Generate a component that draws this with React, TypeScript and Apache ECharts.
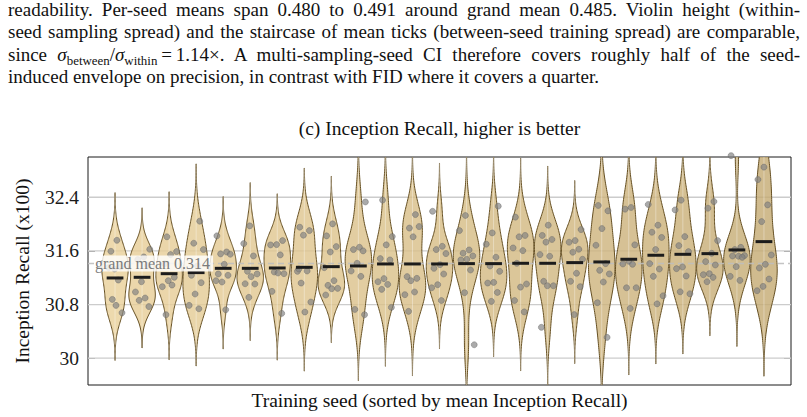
import React, { useEffect, useRef } from "react";
import * as echarts from "echarts";

const SERIF = "'Liberation Serif', 'Times New Roman', 'DejaVu Serif', serif";

// Mean Inception Recall (x100) of each training seed, sorted ascending
const seedMeans = [
  31.196, 31.206, 31.26, 31.276, 31.34, 31.34, 31.345, 31.355, 31.365, 31.375,
  31.405, 31.405, 31.405, 31.41, 31.41, 31.415, 31.415, 31.425, 31.435, 31.475,
  31.535, 31.549, 31.559, 31.614, 31.738,
];

// Per-seed evaluations over sampling seeds (x100)
const seedSamples: number[][] = [
  [31.758, 31.594, 31.36, 31.33, 31.35, 31.165, 30.876, 30.677, 30.787],
  [31.624, 31.51, 31.47, 31.38, 31.14, 30.987, 30.897, 30.862, 30.77],
  [31.81, 31.59, 31.545, 31.41, 31.206, 31.156, 31.066, 31.09, 30.648],
  [32.043, 31.714, 31.62, 31.375, 31.236, 31.126, 30.957, 30.787, 30.737],
  [31.824, 31.584, 31.555, 31.55, 31.4, 31.256, 31.236, 31.136, 31.156, 30.722],
  [31.973, 31.709, 31.525, 31.295, 31.256, 31.216, 31.11, 31.106, 30.907],
  [31.754, 31.694, 31.689, 31.54, 31.285, 31.26, 31.27, 30.996, 30.668],
  [31.953, 31.903, 31.834, 31.295, 31.3, 31.12, 30.837, 30.688, 31.33],
  [32.003, 31.824, 31.664, 31.584, 31.35, 31.156, 31.086, 31.041, 31.036, 30.942],
  [32.33, 31.654, 31.62, 31.6, 31.415, 31.3, 31.22, 30.727, 30.648],
  [32.357, 31.814, 31.69, 31.485, 31.465, 31.186, 31.14, 31.1, 31.026, 30.757],
  [32.142, 31.94, 31.963, 31.81, 31.216, 31.19, 31.156, 30.947, 30.987, 30.698],
  [32.19, 31.668, 31.62, 31.56, 31.394, 31.34, 31.255, 31.096, 31.05, 30.86],
  [32.128, 31.903, 31.614, 31.565, 31.525, 31.475, 31.465, 31.315, 30.977, 30.2],
  [32.267, 31.868, 31.7, 31.505, 31.375, 31.295, 31.13, 31.12, 30.98, 30.847],
  [32.103, 31.83, 31.81, 31.644, 31.604, 31.415, 31.106, 31.06, 30.86, 30.69],
  [31.983, 31.83, 31.77, 31.73, 31.545, 31.52, 31.146, 31.08, 31.08, 30.46],
  [31.918, 31.754, 31.729, 31.624, 31.58, 31.475, 31.266, 31.146, 31.066, 30.65],
  [32.277, 32.197, 31.933, 31.684, 31.41, 31.31, 31.256, 31.136, 30.827, 30.31],
  [32.247, 32.222, 31.69, 31.445, 31.405, 31.4, 31.05, 31.05, 30.742],
  [32.292, 31.983, 31.878, 31.8, 31.62, 31.41, 31.33, 31.22, 30.93, 30.81],
  [32.356, 32.211, 31.813, 31.678, 31.589, 31.36, 31.335, 31.225, 30.99, 30.96],
  [32.336, 32.236, 31.753, 31.564, 31.44, 31.39, 31.26, 31.245, 31.205, 31.14],
  [33.02, 31.653, 31.62, 31.53, 31.52, 31.524, 31.504, 31.365, 31.22, 31.16],
  [32.849, 32.664, 32.286, 32.037, 31.539, 31.4, 31.345, 31.18, 31.07, 31.006],
];

const yTicks = [30, 30.8, 31.6, 32.4];
const yMin = 29.6;
const yMax = 33.0;

const titleText = "(c) Inception Recall, higher is better";
const xAxisTitle = "Training seed (sorted by mean Inception Recall)";
const yAxisTitle = "Inception Recall (x100)";

const paragraphLines = [
  "readability. Per-seed means span 0.480 to 0.491 around grand mean 0.485. Violin height (within-",
  "seed sampling spread) and the staircase of mean ticks (between-seed training spread) are comparable,",
  "1.14×. A multi-sampling-seed CI therefore covers roughly half of the seed-",
  "induced envelope on precision, in contrast with FID where it covers a quarter.",
];

const VIOLIN_HALF = 0.49;
const TICK_HALF = 0.31;
const JITTER = 0.58;

// Gaussian KDE (Scott bandwidth), extended 3 bandwidths past the data
function kdeProfile(samples: number[]): [number, number][] {
  const n = samples.length;
  const mu = samples.reduce((a, b) => a + b, 0) / n;
  const sd = Math.sqrt(samples.reduce((a, b) => a + (b - mu) * (b - mu), 0) / (n - 1));
  const bw = sd * Math.pow(n, -0.2);
  const lo = Math.min(...samples) - 3 * bw;
  const hi = Math.max(...samples) + 3 * bw;
  const steps = 140;
  const out: [number, number][] = [];
  let peak = 0;
  for (let k = 0; k <= steps; k++) {
    const y = lo + ((hi - lo) * k) / steps;
    let d = 0;
    for (const s of samples) {
      const z = (y - s) / bw;
      d += Math.exp(-0.5 * z * z);
    }
    out.push([y, d]);
    if (d > peak) peak = d;
  }
  return out.map(([y, d]) => [y, d / peak] as [number, number]);
}

function lerpColor(a: number[], b: number[], t: number, alpha: number) {
  const c = a.map((v, i) => Math.round(v + (b[i] - v) * t));
  return `rgba(${c[0]},${c[1]},${c[2]},${alpha})`;
}

const fillLight = [233, 207, 152];
const fillDark = [196, 170, 114];

function buildOption() {
  const profiles = seedSamples.map(kdeProfile);
  const grandMean = seedMeans.reduce((a, b) => a + b, 0) / seedMeans.length;

  const points: number[][] = [];
  seedSamples.forEach((arr, i) => {
    arr.forEach((v, j) => {
      const frac = ((j + 1) * 0.6180339887 + i * 0.37) % 1;
      points.push([i + 1 + (frac - 0.5) * JITTER, v]);
    });
  });

  return {
    animation: false,
    backgroundColor: "#ffffff",
    grid: {
      left: 88,
      right: 16,
      top: 157,
      bottom: 32,
      show: true,
      borderColor: "#1a1a1a",
      borderWidth: 1,
      backgroundColor: "transparent",
    },
    xAxis: { type: "value", min: 0, max: seedMeans.length + 1, show: false },
    yAxis: [
      {
        type: "value",
        min: yMin,
        max: yMax,
        position: "left",
        axisLine: { show: false },
        splitLine: { show: false },
        axisTick: { show: true, inside: true, length: 7, customValues: yTicks, lineStyle: { color: "#9a9a9a" } },
        axisLabel: {
          customValues: yTicks,
          formatter: (v: number) => String(Number(v.toFixed(1))),
          fontFamily: SERIF,
          fontSize: 19.5,
          color: "#1a1a1a",
          margin: 9,
        },
      },
      {
        type: "value",
        min: yMin,
        max: yMax,
        position: "right",
        axisLine: { show: false },
        splitLine: { show: false },
        axisTick: { show: true, inside: true, length: 7, customValues: yTicks, lineStyle: { color: "#9a9a9a" } },
        axisLabel: { show: false },
      },
    ],
    graphic: [
      {
        type: "text",
        x: 439.5,
        y: 128,
        style: { text: titleText, font: `19.5px ${SERIF}`, fill: "#111", textAlign: "center", textVerticalAlign: "middle" },
      },
      {
        type: "text",
        x: 439.5,
        y: 400,
        style: { text: xAxisTitle, font: `19.5px ${SERIF}`, fill: "#111", textAlign: "center", textVerticalAlign: "middle" },
      },
      {
        type: "text",
        x: 22,
        y: 271,
        rotation: Math.PI / 2,
        style: { text: yAxisTitle, font: `19.5px ${SERIF}`, fill: "#111", textAlign: "center", textVerticalAlign: "middle" },
      },
    ],
    series: [
      {
        // horizontal grid lines
        type: "custom",
        silent: true,
        z: 1,
        data: yTicks.map((v) => [0, v]),
        renderItem: (params: any, api: any) => {
          const cs = params.coordSys;
          const y = api.coord([0, api.value(1)])[1];
          return {
            type: "line",
            shape: { x1: cs.x, y1: y, x2: cs.x + cs.width, y2: y },
            style: { stroke: "#cccccc", lineWidth: 1.3 },
          };
        },
      },
      {
        // violins
        type: "custom",
        silent: true,
        clip: true,
        z: 2,
        data: seedMeans.map((m, i) => [i + 1, m, i]),
        renderItem: (params: any, api: any) => {
          const idx = api.value(2) as number;
          const xc = api.value(0) as number;
          const prof = profiles[idx];
          const right = prof.map(([y, d]) => api.coord([xc + d * VIOLIN_HALF, y]));
          const left = prof.map(([y, d]) => api.coord([xc - d * VIOLIN_HALF, y])).reverse();
          const top = api.coord([xc, prof[prof.length - 1][0]]);
          const bot = api.coord([xc, prof[0][0]]);
          const t = idx / (seedMeans.length - 1);
          return {
            type: "group",
            children: [
              {
                type: "polygon",
                shape: { points: right.concat(left) },
                style: { fill: lerpColor(fillLight, fillDark, t, 0.8), stroke: "#654f22", lineWidth: 1 },
              },
              {
                type: "line",
                shape: { x1: top[0], y1: top[1], x2: bot[0], y2: bot[1] },
                style: { stroke: "rgba(255,255,255,0.35)", lineWidth: 1 },
              },
            ],
          };
        },
      },
      {
        // grand mean reference
        type: "custom",
        silent: true,
        z: 3,
        data: [[0, grandMean]],
        renderItem: (params: any, api: any) => {
          const cs = params.coordSys;
          const y = api.coord([0, api.value(1)])[1];
          return {
            type: "line",
            shape: { x1: cs.x, y1: y, x2: cs.x + cs.width, y2: y },
            style: { stroke: "rgba(190,190,190,0.9)", lineWidth: 1.5, lineDash: [6, 4] },
          };
        },
      },
      {
        type: "scatter",
        silent: true,
        clip: false,
        z: 4,
        symbolSize: 6,
        itemStyle: { color: "rgba(130,130,130,0.85)", borderColor: "rgba(100,100,100,0.9)", borderWidth: 0.6 },
        data: points,
      },
      {
        // per-seed mean ticks
        type: "custom",
        silent: true,
        z: 5,
        data: seedMeans.map((m, i) => [i + 1, m]),
        renderItem: (params: any, api: any) => {
          const xc = api.value(0) as number;
          const m = api.value(1) as number;
          const a = api.coord([xc - TICK_HALF, m]);
          const b = api.coord([xc + TICK_HALF, m]);
          return {
            type: "line",
            shape: { x1: a[0], y1: a[1], x2: b[0], y2: b[1] },
            style: { stroke: "#1c1c1c", lineWidth: 3 },
          };
        },
      },
      {
        // grand mean label
        type: "custom",
        silent: true,
        z: 6,
        data: [[0, grandMean]],
        renderItem: (params: any, api: any) => {
          const cs = params.coordSys;
          const gm = api.value(1) as number;
          const y = api.coord([0, gm])[1];
          return {
            type: "text",
            x: cs.x + 6,
            y,
            style: {
              text: `grand mean ${(gm / 100).toFixed(3)}`,
              font: `16px ${SERIF}`,
              fill: "#7a7a7a",
              textAlign: "left",
              textVerticalAlign: "middle",
              backgroundColor: "rgba(255,255,255,0.8)",
              padding: [0, 3, 0, 1],
            },
          };
        },
      },
    ],
  };
}

const lineStyle: React.CSSProperties = {
  whiteSpace: "nowrap",
  textAlign: "justify",
  textAlignLast: "justify",
  height: 22.3,
};

const subStyle: React.CSSProperties = { fontSize: "0.68em", lineHeight: 0, verticalAlign: "-0.28em" };

export default function App() {
  const ref = useRef<HTMLDivElement>(null);

  useEffect(() => {
    if (!ref.current) return;
    const chart = echarts.init(ref.current, undefined, { renderer: "svg" });
    chart.setOption(buildOption() as any);
    return () => chart.dispose();
  }, []);

  return (
    <div style={{ position: "fixed", left: 0, top: 0, width: 807, height: 417, background: "#fff", overflow: "hidden" }}>
      <div ref={ref} style={{ position: "absolute", left: 0, top: 0, width: 807, height: 417 }} />
      <div
        style={{
          position: "absolute",
          left: 8,
          top: -1,
          width: 792,
          fontFamily: SERIF,
          fontSize: 19,
          lineHeight: "22.3px",
          color: "#111",
        }}
      >
        <div style={lineStyle}>{paragraphLines[0]}</div>
        <div style={lineStyle}>{paragraphLines[1]}</div>
        <div style={lineStyle}>
          since <i>σ</i>
          <span style={subStyle}>between</span>/<i>σ</i>
          <span style={subStyle}>within</span>
          {"\u2009=\u2009"}
          {paragraphLines[2]}
        </div>
        <div style={{ whiteSpace: "nowrap", height: 22.3 }}>{paragraphLines[3]}</div>
      </div>
    </div>
  );
}
